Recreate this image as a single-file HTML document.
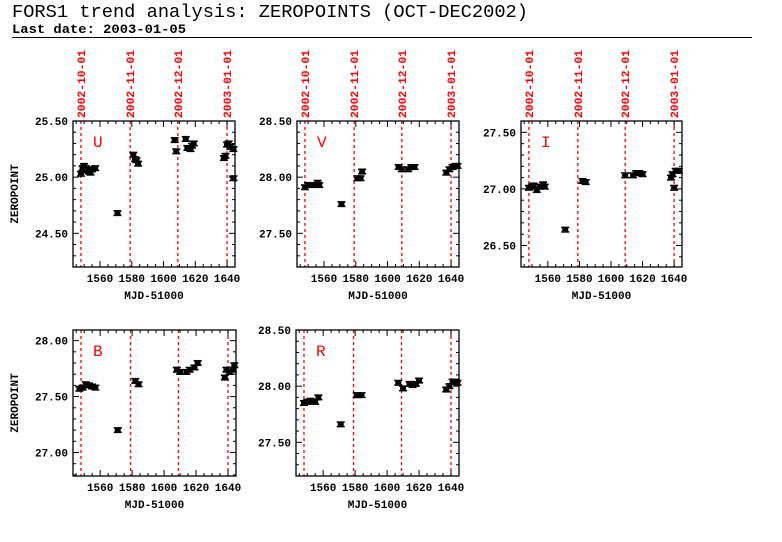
<!DOCTYPE html>
<html><head><meta charset="utf-8"><style>
body{margin:0;background:#fff;width:782px;height:542px;overflow:hidden}
svg{display:block}
text{font-family:"Liberation Mono",monospace}
</style></head><body>
<svg id="chart" width="782" height="542" xmlns="http://www.w3.org/2000/svg">
<text x="12" y="17" font-size="18" textLength="516" lengthAdjust="spacingAndGlyphs" font-family="Liberation Serif, serif">FORS1 trend analysis: ZEROPOINTS (OCT-DEC2002)</text>
<text x="12" y="33" font-size="13" font-weight="bold" textLength="174" lengthAdjust="spacingAndGlyphs">Last date: 2003-01-05</text>
<line x1="12" y1="37.5" x2="752" y2="37.5" stroke="#000" stroke-width="1"/>
</svg>
<script>
const xDomain=[1543,1645];
const xTicks=[1560,1580,1600,1620,1640];
const dateLines=[1548,1579,1609,1640];
const dateLabels=["2002-10-01","2002-11-01","2002-12-01","2003-01-01"];
const uX=[1548,1549,1550,1551,1552,1553,1554,1555,1557,1571,1581,1582,1583,1584,1607,1608,1614,1615,1617,1618,1619,1638,1639,1640,1641,1642,1644,1644];
const uY=[25.03,25.08,25.10,25.08,25.06,25.05,25.04,25.07,25.08,24.68,25.20,25.16,25.15,25.12,25.33,25.23,25.34,25.26,25.25,25.28,25.30,25.17,25.19,25.29,25.30,25.27,25.25,24.99];
const vX=[1548,1550,1552,1554,1556,1557,1571,1581,1583,1584,1607,1609,1613,1615,1617,1637,1639,1641,1643,1644];
const vY=[27.91,27.93,27.93,27.93,27.95,27.93,27.76,27.99,27.99,28.05,28.09,28.07,28.07,28.09,28.09,28.04,28.07,28.09,28.10,28.10];
const iX=[1548,1550,1551,1553,1555,1557,1558,1571,1582,1584,1609,1614,1616,1618,1620,1638,1639,1640,1641,1643];
const iY=[27.01,27.02,27.03,26.99,27.02,27.04,27.02,26.64,27.07,27.06,27.12,27.12,27.14,27.14,27.13,27.10,27.13,27.01,27.16,27.16];
const bX=[1547,1549,1551,1553,1555,1557,1571,1582,1584,1608,1610,1614,1616,1619,1621,1638,1639,1641,1643,1644];
const bY=[27.57,27.58,27.61,27.60,27.59,27.58,27.20,27.64,27.61,27.74,27.72,27.72,27.74,27.76,27.80,27.67,27.74,27.72,27.74,27.78];
const rX=[1548,1550,1552,1555,1557,1571,1581,1584,1607,1610,1614,1616,1618,1620,1637,1639,1641,1643,1644];
const rY=[27.85,27.86,27.87,27.86,27.90,27.66,27.92,27.92,28.03,27.98,28.02,28.01,28.02,28.05,27.97,28.00,28.04,28.04,28.03];

const NS="http://www.w3.org/2000/svg";
const svg=document.getElementById('chart');
function mk(tag,attrs,parent){const e=document.createElementNS(NS,tag);for(const k in attrs)e.setAttribute(k,attrs[k]);(parent||svg).appendChild(e);return e;}

const panels=[
 {name:'u',label:'U',x0:73,x1:235,y0:121,y1:267,yd:[24.2,25.5],ticks:[25.5,25.0,24.5],xs:uX,ys:uY,ylab:true,dates:true},
 {name:'v',label:'V',x0:297,x1:459,y0:121,y1:267,yd:[27.2,28.5],ticks:[28.5,28.0,27.5],xs:vX,ys:vY,ylab:false,dates:true},
 {name:'i',label:'I',x0:521,x1:682,y0:121,y1:267,yd:[26.31,27.6],ticks:[27.5,27.0,26.5],xs:iX,ys:iY,ylab:false,dates:true},
 {name:'b',label:'B',x0:73,x1:236,y0:330,y1:476,yd:[26.79,28.095],ticks:[28.0,27.5,27.0],xs:bX,ys:bY,ylab:true,dates:false},
 {name:'r',label:'R',x0:296,x1:459,y0:330,y1:476,yd:[27.2,28.5],ticks:[28.5,28.0,27.5],xs:rX,ys:rY,ylab:false,dates:false}
];
panels.forEach(p=>{
 const g=mk('g',{});
 
 
 const sx=d=>p.x0+(d-xDomain[0])/(xDomain[1]-xDomain[0])*(p.x1-p.x0);
 const sy=v=>p.y1-(v-p.yd[0])/(p.yd[1]-p.yd[0])*(p.y1-p.y0);
 dateLines.forEach((d,k)=>{
  const l=mk('line',{x1:sx(d),x2:sx(d),y1:p.y0,y2:p.y1,stroke:'#f00','stroke-width':1.3,'stroke-dasharray':'3,3'},g);
  
  
  if(p.dates){
   const t=mk('text',{x:0,y:0,'font-size':11,'font-weight':'bold',fill:'#f00',transform:`translate(${sx(d)+4},${p.y0-3}) rotate(-90)`,textLength:68,lengthAdjust:'spacingAndGlyphs'},g);
   t.textContent=dateLabels[k];
   
   
  }
 });
 const fr=mk('rect',{x:p.x0,y:p.y0,width:p.x1-p.x0,height:p.y1-p.y0,fill:'none',stroke:'#000','stroke-width':1.3},g);
 
 
 for(let d=1545;d<=1645;d+=5){
  const major=d%20===0, len=major?6:3;
  mk('line',{x1:sx(d),x2:sx(d),y1:p.y1,y2:p.y1-len,stroke:'#000'},g);
  mk('line',{x1:sx(d),x2:sx(d),y1:p.y0,y2:p.y0+len,stroke:'#000'},g);
 }
 xTicks.forEach(d=>{
  const t=mk('text',{x:sx(d),y:p.y1+15,'font-size':11,'font-weight':'bold','text-anchor':'middle'},g);
  t.textContent=d;
  
  
 });
 const xl=mk('text',{x:(p.x0+p.x1)/2,y:p.y1+32,'font-size':11,'font-weight':'bold','text-anchor':'middle'},g);
 xl.textContent='MJD-51000';
 
 
 for(let v=Math.ceil(p.yd[0]*10)/10;v<=p.yd[1]+1e-6;v+=0.1){
  const major=Math.abs(v*2-Math.round(v*2))<1e-6, len=major?6:3;
  mk('line',{x1:p.x0,x2:p.x0+len,y1:sy(v),y2:sy(v),stroke:'#000'},g);
  mk('line',{x1:p.x1,x2:p.x1-len,y1:sy(v),y2:sy(v),stroke:'#000'},g);
 }
 p.ticks.forEach(v=>{
  const t=mk('text',{x:p.x0-5,y:sy(v)+4,'font-size':11,'font-weight':'bold','text-anchor':'end'},g);
  t.textContent=v.toFixed(2);
  
  
 });
 if(p.ylab){
  const t=mk('text',{x:0,y:0,'font-size':11,'font-weight':'bold','text-anchor':'middle',transform:`translate(${p.x0-55},${(p.y0+p.y1)/2}) rotate(-90)`},g);
  t.textContent='ZEROPOINT';
  
  
 }
 const lb=mk('text',{x:p.x0+20,y:p.y0+26,'font-size':16,fill:'#f00','font-family':'Liberation Serif, serif'},g);
 lb.textContent=p.label;
 
 
 p.xs.forEach((d,k)=>{
  const cx=sx(d), cy=sy(p.ys[k]), e=0.02, ya=sy(p.ys[k]+e), yb=sy(p.ys[k]-e);
  const pg=mk('g',{stroke:'#000','stroke-width':1.6},g);
  
  
  mk('line',{x1:cx,x2:cx,y1:ya,y2:yb},pg);
  mk('line',{x1:cx-4,x2:cx+4,y1:ya,y2:ya},pg);
  mk('line',{x1:cx-4,x2:cx+4,y1:yb,y2:yb},pg);
  mk('rect',{x:cx-3,y:cy-1.5,width:6,height:3,fill:'#000',stroke:'none'},pg);
 });
});
</script>
</body></html>
